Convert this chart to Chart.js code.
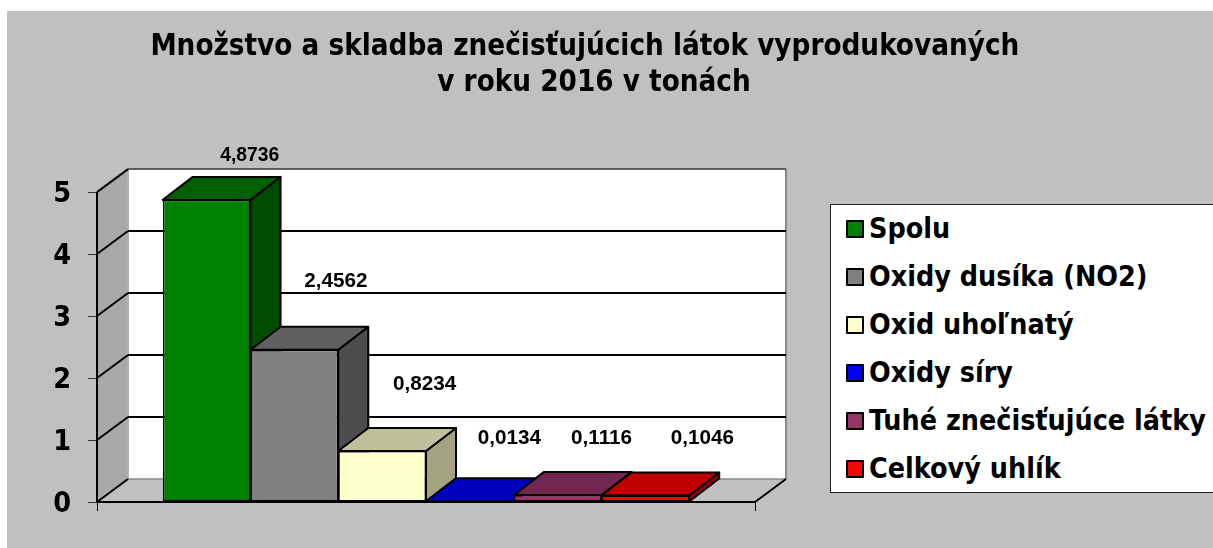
<!DOCTYPE html>
<html lang="sk">
<head>
<meta charset="utf-8">
<title>Znečisťujúce látky 2016</title>
<script src="https://cdn.jsdelivr.net/npm/chart.js@4"></script>
<style>
    html, body { margin: 0; padding: 0; background: #fff; }
    #panel { position: absolute; left: 7px; top: 11px; width: 1206px; height: 537px; background: #c0c0c0; }
    #chartBox { position: absolute; left: 0; top: 0; width: 1213px; height: 548px; }
    #legend { position: absolute; left: 830px; top: 204px; width: 383px; height: 287px; background: #fff; border: 1px solid #222; border-right: 0; box-sizing: content-box; }
    #legend .row { position: absolute; left: 15px; height: 48px; white-space: nowrap; font: bold 28.4px/48px "DejaVu Sans Condensed", "DejaVu Sans", sans-serif; color: #000; }
    #legend .swatch { display: inline-block; width: 14px; height: 14px; border: 2px solid #000; border-radius: 1px; margin-right: 5px; vertical-align: 0; }
</style>
</head>
<body>
<div id="panel"></div>
<div id="chartBox"><canvas id="pollutionChart" width="1213" height="548"></canvas></div>
<div id="legend"></div>
<script>
var seriesNames = ['Spolu', 'Oxidy dusíka (NO2)', 'Oxid uhoľnatý', 'Oxidy síry', 'Tuhé znečisťujúce látky', 'Celkový uhlík'];
var seriesValues = [4.8736, 2.4562, 0.8234, 0.0134, 0.1116, 0.1046];
var seriesColors = ['#008000', '#808080', '#ffffcc', '#0000ff', '#993366', '#ff0000'];
var topColors = ['#006000', '#606060', '#c0c09a', '#0000c0', '#732650', '#c00000'];
var sideColors = ['#004d00', '#4d4d4d', '#a3a382', '#00009a', '#5c1f3d', '#990000'];
var valueLabels = ['4,8736', '2,4562', '0,8234', '0,0134', '0,1116', '0,1046'];
var labelShiftX = [43, 41.5, 42.5, 39.5, 44, 57];
var labelShiftY = [-44, -68, -67, -62.5, -56.5, -57];
var labelSizes = [19.3, 20.7, 20.7, 20.7, 20.7, 20.7];
var yTicks = [0, 1, 2, 3, 4, 5];
var titleLines = ['Množstvo a skladba znečisťujúcich látok vyprodukovaných  ', 'v roku 2016 v tonách'];

var wallDepthX = 31, wallDepthY = 23;
var barDepthX = 30, barDepthY = 23;
var titleFont = '"DejaVu Sans Condensed", "DejaVu Sans", sans-serif';

function poly(ctx, pts, fill, stroke, lw) {
    ctx.beginPath();
    ctx.moveTo(pts[0][0], pts[0][1]);
    for (var i = 1; i < pts.length; i++) {
        ctx.lineTo(pts[i][0], pts[i][1]);
    }
    ctx.closePath();
    if (fill) {
        ctx.fillStyle = fill;
        ctx.fill();
    }
    if (stroke) {
        ctx.strokeStyle = stroke;
        ctx.lineWidth = lw || 1;
        ctx.stroke();
    }
}

function line(ctx, x1, y1, x2, y2, color, lw) {
    ctx.beginPath();
    ctx.moveTo(x1, y1);
    ctx.lineTo(x2, y2);
    ctx.strokeStyle = color;
    ctx.lineWidth = lw;
    ctx.stroke();
}

// walls, floor and the depth faces of the bars, the fronts come from Chart.js afterwards
var box3d = {
    id: 'box3d',
    beforeDatasetsDraw: function(chart) {
        var ctx = chart.ctx;
        var a = chart.chartArea;
        var y = chart.scales.y;
        var dx = wallDepthX, dy = wallDepthY;
        ctx.save();
        ctx.lineJoin = 'round';
        poly(ctx, [[a.left + dx, a.top - dy], [a.right + dx, a.top - dy], [a.right + dx, a.bottom - dy], [a.left + dx, a.bottom - dy]], '#ffffff');
        poly(ctx, [[a.left, a.top], [a.left + dx, a.top - dy], [a.left + dx, a.bottom - dy], [a.left, a.bottom]], '#a9a9a9');
        poly(ctx, [[a.left, a.bottom], [a.left + dx, a.bottom - dy], [a.right + dx, a.bottom - dy], [a.right, a.bottom]], '#c0c0c0');
        line(ctx, a.right + dx, a.top - dy, a.right + dx, a.bottom - dy, '#8a8a8a', 2);
        line(ctx, a.left + dx, a.top - dy, a.left + dx, a.bottom - dy, '#b0b0b0', 2);
        line(ctx, a.left + dx, a.bottom - dy, a.right + dx, a.bottom - dy, '#8a8a8a', 1.5);
        line(ctx, a.left + dx, a.top - dy, a.right + dx, a.top - dy, '#333333', 1.5);
        yTicks.forEach(function(t) {
            var py = y.getPixelForValue(t);
            line(ctx, a.left, py, a.left + dx, py - dy, '#000000', 2);
            if (t > 0 && t < 5) {
                line(ctx, a.left + dx, py - dy, a.right + dx, py - dy, '#000000', 2);
            }
        });
        line(ctx, a.right, a.bottom, a.right + dx, a.bottom - dy, '#000000', 2);
        line(ctx, a.left, a.top, a.left, a.bottom, '#000000', 2);

        seriesValues.forEach(function(v, i) {
            var bar = chart.getDatasetMeta(i).data[0];
            var left = bar.x - bar.width / 2, right = bar.x + bar.width / 2;
            var top = bar.y, base = bar.base;
            poly(ctx, [[right, top], [right + barDepthX, top - barDepthY], [right + barDepthX, base - barDepthY], [right, base]], sideColors[i], '#000000', 2);
            poly(ctx, [[left, top], [left + barDepthX, top - barDepthY], [right + barDepthX, top - barDepthY], [right, top]], topColors[i], '#000000', 2);
        });
        ctx.restore();
    },
    afterDatasetsDraw: function(chart) {
        var ctx = chart.ctx;
        ctx.save();
        ctx.fillStyle = '#000000';
        ctx.textAlign = 'center';
        ctx.textBaseline = 'middle';
        valueLabels.forEach(function(txt, i) {
            var bar = chart.getDatasetMeta(i).data[0];
            ctx.font = 'bold ' + labelSizes[i] + 'px "Liberation Sans", Arial, sans-serif';
            ctx.fillText(txt, bar.x + labelShiftX[i], bar.y + labelShiftY[i]);
        });
        ctx.restore();
    }
};

var datasets = seriesNames.map(function(name, i) {
    return {
        label: name,
        data: [seriesValues[i]],
        backgroundColor: seriesColors[i],
        borderColor: '#000000',
        borderWidth: 1.5,
        borderSkipped: false
    };
});

new Chart(document.getElementById('pollutionChart'), {
    type: 'bar',
    data: { labels: ['2016'], datasets: datasets },
    plugins: [box3d],
    options: {
        responsive: false,
        animation: false,
        events: [],
        categoryPercentage: 0.8,
        barPercentage: 1,
        layout: { autoPadding: false, padding: { left: 0, right: 25, top: 0, bottom: 0 } },
        plugins: {
            legend: { display: false },
            tooltip: { enabled: false },
            title: {
                display: true,
                text: titleLines,
                color: '#000000',
                font: { family: titleFont, size: 29.3, weight: 'bold', lineHeight: 1.23 },
                padding: { top: 29, bottom: 91 }
            }
        },
        scales: {
            x: {
                grid: { drawOnChartArea: false, color: '#000000', tickLength: 9, lineWidth: 1 },
                border: { display: true, color: '#000000', width: 2, z: 1 },
                ticks: { display: false },
                afterFit: function(scale) { scale.height = 46; }
            },
            y: {
                min: 0,
                max: 5,
                grid: { drawOnChartArea: false, color: '#333333', tickLength: 9, lineWidth: 1 },
                border: { display: false },
                ticks: {
                    stepSize: 1,
                    padding: 17,
                    labelOffset: 2.5,
                    color: '#000000',
                    font: { family: titleFont, size: 28.5, weight: 'bold' }
                },
                afterFit: function(scale) { scale.width = 97; }
            },
            // empty axis, holds the room the legend box sits in
            legendSpace: {
                type: 'linear',
                axis: 'y',
                position: 'right',
                grid: { display: false },
                border: { display: false },
                ticks: { display: false },
                afterFit: function(scale) { scale.width = 433; }
            }
        }
    }
});

// html legend
var legendEl = document.getElementById('legend');
seriesNames.forEach(function(name, i) {
    var row = document.createElement('div');
    row.className = 'row';
    row.style.top = (i * 48) + 'px';
    var sw = document.createElement('span');
    sw.className = 'swatch';
    sw.style.background = seriesColors[i];
    row.appendChild(sw);
    row.appendChild(document.createTextNode(name));
    legendEl.appendChild(row);
});
</script>
</body>
</html>
